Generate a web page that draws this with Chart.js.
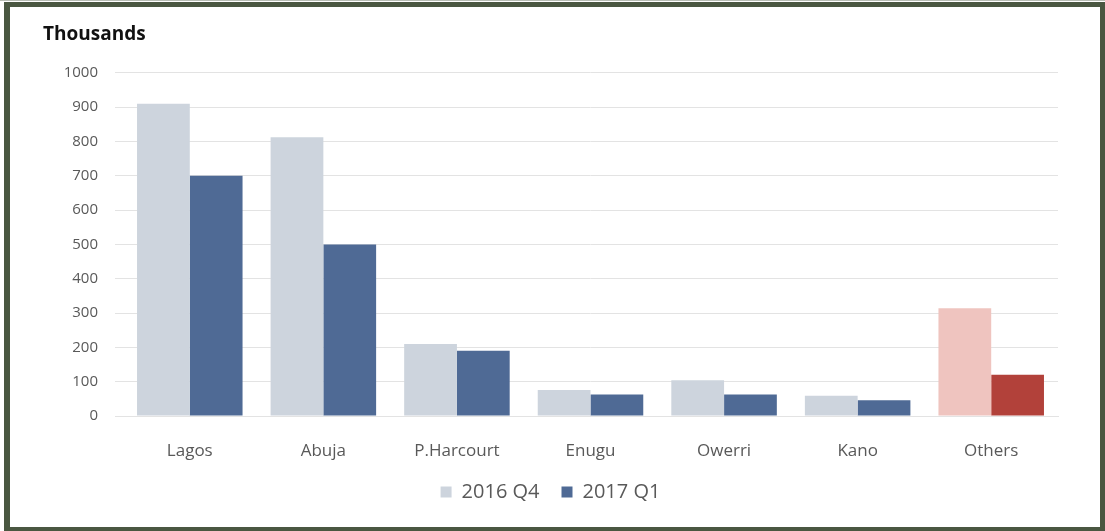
<!DOCTYPE html>
<html>
<head>
<meta charset="utf-8">
<title>Thousands</title>
<script src="https://cdn.jsdelivr.net/npm/chart.js@4"></script>
<style>
  html, body { margin: 0; padding: 0; background: #fff; }
  body { width: 1105px; height: 531px; position: relative; overflow: hidden; border-top: 1px solid #b8bdb4; box-sizing: border-box; }
  #frame {
    position: absolute; left: 4px; top: 1px; right: 0; bottom: 0;
    border-style: solid; border-color: #4a5741;
    border-width: 5px 5px 4px 6px;
  }
  #canvas { position: absolute; left: 0; top: 0; }
</style>
</head>
<body>
<div id="frame"></div>
<canvas id="canvas" width="1105" height="531"></canvas>
<script>
var cities = ['Lagos', 'Abuja', 'P.Harcourt', 'Enugu', 'Owerri', 'Kano', 'Others'];
var q4_2016 = [910, 812, 210, 76, 104, 59, 314];
var q1_2017 = [700, 500, 190, 63, 63, 46, 120];
var seriesNames = ['2016 Q4', '2017 Q1'];

// "Others" gets its own red pair, the rest are grey / blue
function colours(base, other) {
    return cities.map(function (c) {
        return c === 'Others' ? other : base;
    });
}

var textGrey = '#595959';
var gridGrey = '#e3e3e3';

var ctx = document.getElementById('canvas').getContext('2d');
var myChart = new Chart(ctx, {
    type: 'bar',
    data: {
        labels: cities,
        datasets: [{
            label: seriesNames[0],
            data: q4_2016,
            backgroundColor: colours('#cdd4dd', '#efc4bf'),
            borderWidth: 0
        }, {
            label: seriesNames[1],
            data: q1_2017,
            backgroundColor: colours('#4f6a95', '#b2413a'),
            borderWidth: 0
        }]
    },
    options: {
        responsive: false,
        animation: false,
        categoryPercentage: 0.79,
        barPercentage: 1.0,
        layout: {
            padding: { left: 43, right: 47, top: 0, bottom: 20 }
        },
        plugins: {
            title: {
                display: true,
                text: 'Thousands',
                align: 'start',
                color: '#111',
                font: { family: 'Open Sans', size: 19, weight: 'bold' },
                padding: { top: 22, bottom: 27 }
            },
            legend: {
                position: 'bottom',
                labels: {
                    color: textGrey,
                    font: { family: 'Open Sans', size: 20 },
                    boxWidth: 11,
                    boxHeight: 11,
                    padding: 22
                }
            },
            tooltip: { enabled: false }
        },
        scales: {
            x: {
                grid: { display: false },
                border: { color: gridGrey },
                ticks: {
                    color: textGrey,
                    font: { family: 'Open Sans', size: 17 },
                    padding: 17
                },
                afterFit: function (scale) { scale.height = 44; }
            },
            y: {
                min: 0,
                max: 1000,
                border: { display: false },
                grid: {
                    color: gridGrey,
                    drawTicks: true,
                    tickLength: 8,
                    tickColor: gridGrey
                },
                ticks: {
                    stepSize: 100,
                    color: textGrey,
                    font: { family: 'Open Sans', size: 15 },
                    padding: 17,
                    callback: function (v) { return String(v); }
                },
                afterFit: function (scale) { scale.width = 80; }
            }
        }
    }
});
</script>
</body>
</html>
